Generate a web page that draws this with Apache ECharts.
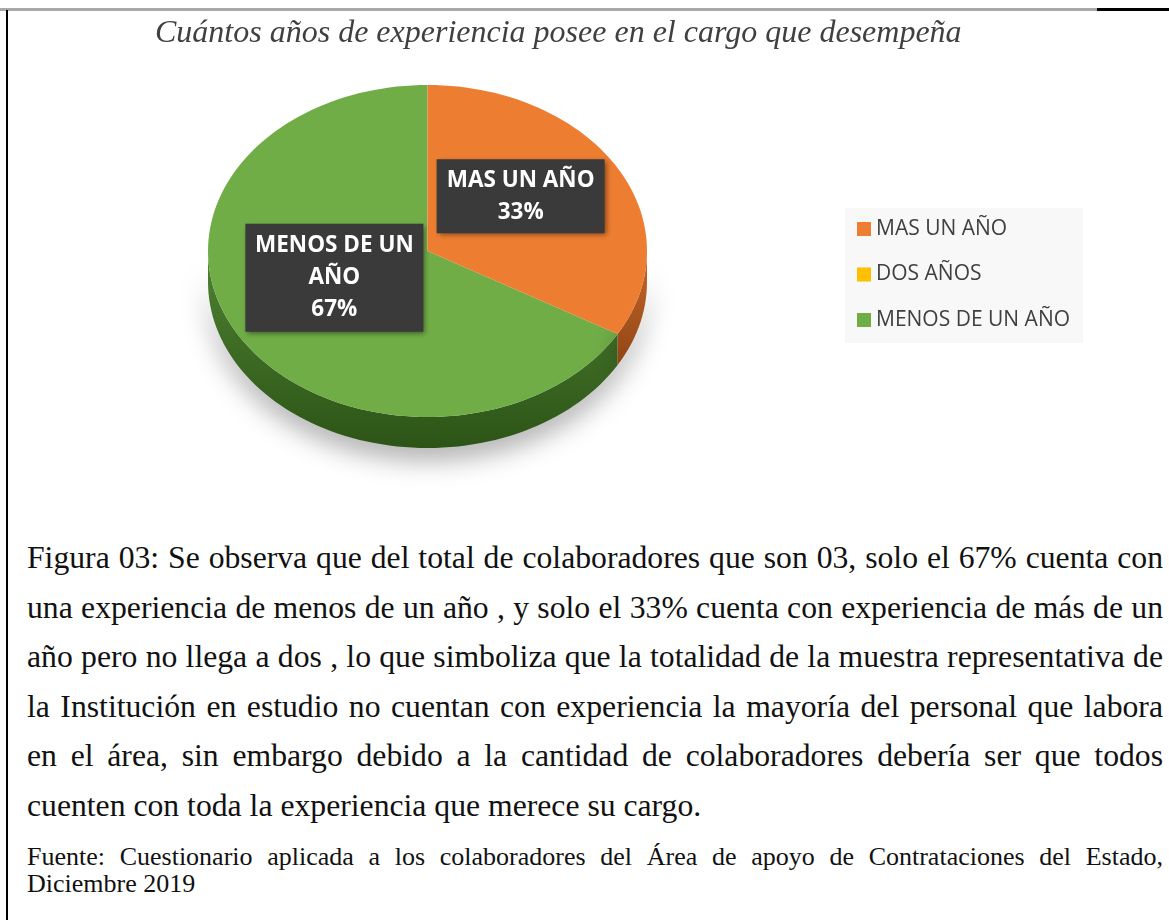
<!DOCTYPE html>
<html>
<head>
<meta charset="utf-8">
<script src="https://cdn.jsdelivr.net/npm/echarts@6/dist/echarts.min.js"></script>
<style>
  html, body { margin: 0; padding: 0; background: #fff; }
  body { width: 1169px; height: 920px; position: relative; overflow: hidden; }
  #chart { position: absolute; left: 0; top: 0; width: 1169px; height: 490px; }
  .rule-gray { position: absolute; left: 0; top: 8px; width: 1097px; height: 3px; background: #a9a9a9; }
  .rule-black { position: absolute; left: 1097px; top: 8px; width: 72px; height: 3px; background: #000; }
  .rule-left { position: absolute; left: 6px; top: 10px; width: 2px; height: 910px; background: #000; }
  .caption { position: absolute; left: 27px; top: 533px; width: 1136px; font-family: 'Liberation Serif', 'Times New Roman', serif; font-size: 31.7px; line-height: 49.5px; color: #111; }
  .caption div, .source div { white-space: nowrap; text-align: left; }
  .caption .j, .source .j { text-align: justify; text-align-last: justify; }
  .source { position: absolute; left: 27px; top: 843px; width: 1136px; font-family: 'Liberation Serif', 'Times New Roman', serif; font-size: 26px; line-height: 27px; color: #111; }
</style>
</head>
<body>
<div class="rule-gray"></div>
<div class="rule-black"></div>
<div class="rule-left"></div>
<div id="chart"></div>
<div class="caption">
  <div class="j">Figura 03: Se observa que del total de colaboradores que son 03, solo el 67% cuenta con</div>
  <div class="j">una experiencia de menos de un año , y solo el 33% cuenta con experiencia de más de un</div>
  <div class="j">año pero no llega a dos , lo que simboliza que la totalidad de la muestra representativa de</div>
  <div class="j">la Institución en estudio no cuentan con experiencia la mayoría del personal que labora</div>
  <div class="j">en el área, sin embargo debido a la cantidad de colaboradores debería ser que todos</div>
  <div>cuenten con toda la experiencia que merece su cargo.</div>
</div>
<div class="source">
  <div class="j">Fuente: Cuestionario aplicada a los colaboradores del Área de apoyo de Contrataciones del Estado,</div>
  <div>Diciembre 2019</div>
</div>
<script>
const categories = ['MAS UN AÑO', 'DOS AÑOS', 'MENOS DE UN AÑO']
const counts = [1, 0, 2]
const colors = ['#ED7D31', '#FFC000', '#70AD47']
const sideColors = [['#c8682a', '#8f4514'], ['#d9a300', '#a67c00'], ['#4f8231', '#2c5417']]
const labelLines = [['MAS UN AÑO'], ['DOS AÑOS'], ['MENOS DE UN', 'AÑO']]

const total = counts.reduce((a, b) => a + b, 0)
const percents = counts.map((v) => Math.round((v / total) * 100))

// pie geometry (flattened to fake the 3d tilt)
const cx = 427.5
const cy = 251
const rx = 219.5
const ry = 166
const depth = 31

const pt = (deg, dy = 0) => {
  const a = (deg * Math.PI) / 180
  return [cx + rx * Math.cos(a), cy - ry * Math.sin(a) + dy]
}

// slices go clockwise from 12 o'clock, like Excel
const startAngle = (i) => 90 - (counts.slice(0, i).reduce((a, b) => a + b, 0) / total) * 360

const arc = (from, to, dy = 0) => {
  const pts = []
  const steps = Math.max(2, Math.ceil(Math.abs(from - to) / 2))
  for (let k = 0; k <= steps; k++) pts.push(pt(from + ((to - from) * k) / steps, dy))
  return pts
}

const renderSlice = (i) => () => {
  const children = []
  if (!counts[i]) return { type: 'group', children }
  const a0 = startAngle(i)
  const a1 = a0 - (counts[i] / total) * 360

  // visible side wall: the part of the rim in the front half (angles -180..0)
  const normFrom = Math.min(a0, 0)
  const normTo = Math.max(a1, -180)
  if (normFrom > normTo) {
    const top = arc(normFrom, normTo)
    const bottom = arc(normTo, normFrom, depth)
    children.push({
      type: 'polygon',
      z2: 1,
      shape: { points: top.concat(bottom) },
      style: {
        fill: new echarts.graphic.LinearGradient(0, 0, 0, 1, [
          { offset: 0, color: sideColors[i][0] },
          { offset: 1, color: sideColors[i][1] },
        ]),
        shadowBlur: 26,
        shadowColor: 'rgba(0,0,0,0.32)',
        shadowOffsetY: 12,
      },
    })
  }

  children.push({
    type: 'polygon',
    z2: 5,
    shape: { points: [[cx, cy]].concat(arc(a0, a1)) },
    style: { fill: colors[i] },
  })

  const mid = ((a0 + a1) / 2) * Math.PI / 180
  children.push({
    type: 'text',
    z2: 10,
    x: cx + 0.49 * rx * Math.cos(mid),
    y: cy - 0.49 * ry * Math.sin(mid) - 14,
    style: {
      text: labelLines[i].concat(percents[i] + '%').join('\n'),
      align: 'center',
      verticalAlign: 'middle',
      fill: '#ffffff',
      fontFamily: 'Open Sans',
      fontWeight: 'bold',
      fontSize: 22.5,
      lineHeight: 32,
      backgroundColor: '#3a3a3a',
      padding: i === 0 ? [5, 9] : [6, 7],
      width: i === 0 ? 150 : 164,
      shadowBlur: 5,
      shadowColor: 'rgba(0,0,0,0.45)',
      shadowOffsetX: 2,
      shadowOffsetY: 2,
    },
  })
  return { type: 'group', children }
}

const chart = echarts.init(document.getElementById('chart'))
chart.setOption({
  animation: false,
  color: colors,
  title: {
    text: 'Cuántos años de experiencia posee en el cargo que desempeña',
    left: 150,
    top: 13,
    textStyle: {
      fontFamily: 'Liberation Serif',
      fontStyle: 'italic',
      fontWeight: 'normal',
      fontSize: 32,
      color: '#404040',
    },
  },
  legend: {
    orient: 'vertical',
    left: 845,
    top: 208,
    padding: [10.5, 13, 12.5, 12],
    itemGap: 24.5,
    itemWidth: 14,
    itemHeight: 14,
    icon: 'rect',
    backgroundColor: '#f8f8f8',
    data: categories,
    textStyle: { fontFamily: 'Open Sans', fontSize: 21, lineHeight: 21, color: '#404040' },
  },
  series: categories.map((name, i) => ({
    name,
    type: 'custom',
    coordinateSystem: 'none',
    z: i === 2 ? 1 : 2,
    data: [counts[i]],
    itemStyle: { color: colors[i] },
    renderItem: renderSlice(i),
  })),
})
</script>
</body>
</html>
